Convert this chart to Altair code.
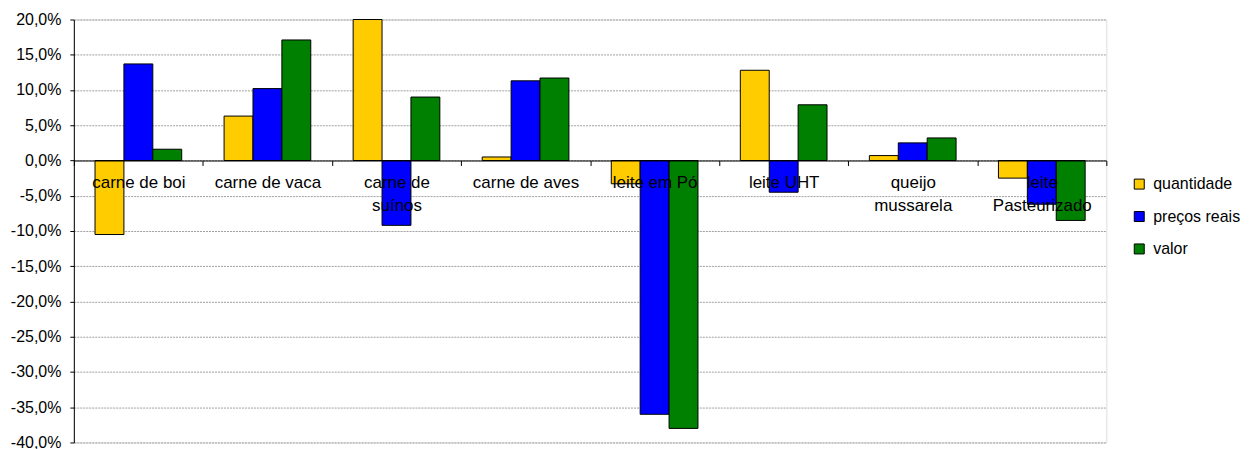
import altair as alt
import pandas as pd

categories = ["carne de boi", "carne de vaca", "carne de|suínos", "carne de aves",
              "leite em Pó", "leite UHT", "queijo|mussarela", "leite|Pasteurizado"]
quantidade = [-10.5, 6.3, 20.0, 0.5, -3.3, 12.8, 0.7, -2.5]
precos_reais = [13.7, 10.2, -9.2, 11.3, -36.0, -4.5, 2.5, -6.2]
valor = [1.6, 17.1, 9.0, 11.7, -38.0, 7.9, 3.2, -8.5]
series = ["quantidade", "preços reais", "valor"]
colors = ["#FFCC00", "#0000FF", "#008000"]
y_ticks = list(range(-40, 25, 5))

rows = []
for name, vals in zip(series, [quantidade, precos_reais, valor]):
    for c, v in zip(categories, vals):
        rows.append({"categoria": c, "serie": name, "valor": v})
df = pd.DataFrame(rows)

W, H = 1035, 424
FONT = "Liberation Sans"

bars = alt.Chart(df).mark_bar(stroke="black", strokeWidth=1).encode(
    x=alt.X("categoria:N", sort=categories, title=None,
            scale=alt.Scale(paddingInner=0, paddingOuter=0),
            axis=alt.Axis(offset=-H * 40 / 60, labelAngle=0, tickBand="extent",
                          domainColor="black", tickColor="black", tickSize=5,
                          labelFont=FONT, labelFontSize=17, labelColor="black",
                          labelPadding=9, labelLineHeight=23, labelBaseline="top",
                          labelExpr="split(datum.label, '|')", grid=False, zindex=1)),
    xOffset=alt.XOffset("serie:N", sort=series,
                        scale=alt.Scale(paddingInner=0, paddingOuter=0.733)),
    y=alt.Y("valor:Q", title=None,
            scale=alt.Scale(domain=[-40, 20], nice=False, zero=False),
            axis=alt.Axis(values=y_ticks, domainColor="black", tickColor="black",
                          tickSize=4, labelPadding=9, labelFont=FONT,
                          labelFontSize=16, labelColor="black",
                          labelExpr="(datum.value < 0 ? '-' : '') + replace(format(abs(datum.value), '.1f'), '.', ',') + '%'",
                          grid=True, gridColor="#a0a0a0", gridDash=[2, 1], gridWidth=1)),
    color=alt.Color("serie:N", sort=series,
                    scale=alt.Scale(domain=series, range=colors),
                    legend=alt.Legend(title=None, orient="none", legendX=1060, legendY=157,
                                      symbolType="square", symbolSize=100,
                                      symbolStrokeColor="black", symbolStrokeWidth=1,
                                      labelFont=FONT, labelFontSize=16, labelColor="black",
                                      rowPadding=16.5, labelOffset=6)),
)

chart = bars.properties(width=W, height=H, padding={"left": 2, "top": 3, "right": 0, "bottom": 0}).configure_view(
    stroke="#888888", strokeWidth=1
).configure(background="white")

chart.save("out.html", embed_options={"renderer": "svg", "actions": False})
